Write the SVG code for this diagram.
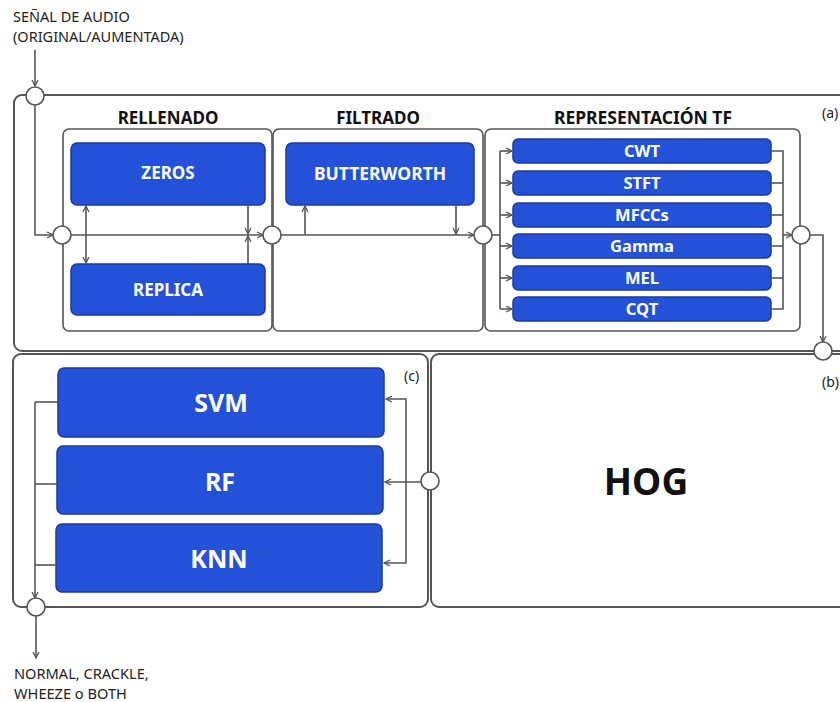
<svg xmlns="http://www.w3.org/2000/svg" width="840" height="702" viewBox="0 0 840 702">
<defs>
<marker id="ah" viewBox="0 0 8 8" refX="7" refY="4" markerWidth="8" markerHeight="8" markerUnits="userSpaceOnUse" orient="auto-start-reverse">
<path d="M1,1 L7,4 L1,7" fill="none" stroke="#555" stroke-width="1.3"/>
</marker>
<style>
.frame{fill:#fff;stroke:#555;stroke-width:2}
.inner{fill:#fff;stroke:#555;stroke-width:1.6}
.blue{fill:#2352d9;stroke:#1b3a9c;stroke-width:1.5}
.ln{fill:none;stroke:#555;stroke-width:1.6}
.ar{fill:none;stroke:#555;stroke-width:1.6;marker-end:url(#ah)}
.jn{fill:#fff;stroke:#555;stroke-width:1.6}
.t{font-family:"Noto Sans","Open Sans","DejaVu Sans",sans-serif;fill:#222}
.w{font-family:"Noto Sans","Open Sans","DejaVu Sans",sans-serif;fill:#fff;font-weight:bold;text-anchor:middle}
.h{font-family:"Noto Sans","Open Sans","DejaVu Sans",sans-serif;fill:#111;font-weight:bold;text-anchor:middle}
</style>
</defs>
<rect width="840" height="702" fill="#fff"/>

<!-- frames -->
<g id="frame-a">
<rect class="frame" x="14" y="95" width="850" height="256" rx="8"/>
<text class="t" x="822" y="118" font-size="14">(a)</text>
</g>
<g id="frame-c">
<rect class="frame" x="13" y="354" width="415" height="253" rx="8"/>
<text class="t" x="404" y="381" font-size="14">(c)</text>
</g>
<g id="hog">
<rect class="frame" x="431" y="354" width="430" height="253" rx="8"/>
<text class="h" x="646" y="495" font-size="37">HOG</text>
</g>
<text class="t" x="822" y="387" font-size="14">(b)</text>

<!-- group boxes -->
<g id="rellenado">
<rect class="inner" x="63" y="129" width="209" height="202" rx="6"/>
<text class="h" x="168" y="124" font-size="17">RELLENADO</text>
</g>
<g id="filtrado">
<rect class="inner" x="273" y="129" width="210" height="202" rx="6"/>
<text class="h" x="378" y="124" font-size="17">FILTRADO</text>
</g>
<g id="repr-tf">
<rect class="inner" x="485" y="129" width="315" height="202" rx="6"/>
<text class="h" x="643" y="124" font-size="17.5">REPRESENTACIÓN TF</text>
</g>

<!-- nodes -->
<g id="zeros"><rect class="blue" x="71" y="143" width="194" height="62" rx="6"/><text class="w" x="168" y="179" font-size="17">ZEROS</text></g>
<g id="replica"><rect class="blue" x="71" y="264" width="194" height="51" rx="6"/><text class="w" x="168" y="296" font-size="17">REPLICA</text></g>
<g id="butterworth"><rect class="blue" x="286" y="143" width="188" height="62" rx="6"/><text class="w" x="380" y="180" font-size="17.5">BUTTERWORTH</text></g>
<g id="cwt"><rect class="blue" x="513" y="139" width="258" height="24" rx="5"/><text class="w" x="642" y="157" font-size="16.5">CWT</text></g>
<g id="stft"><rect class="blue" x="513" y="171" width="258" height="24" rx="5"/><text class="w" x="642" y="189" font-size="16.5">STFT</text></g>
<g id="mfccs"><rect class="blue" x="513" y="203" width="258" height="24" rx="5"/><text class="w" x="642" y="221" font-size="16.5">MFCCs</text></g>
<g id="gamma"><rect class="blue" x="513" y="234" width="258" height="24" rx="5"/><text class="w" x="642" y="252" font-size="16.5">Gamma</text></g>
<g id="mel"><rect class="blue" x="513" y="266" width="258" height="24" rx="5"/><text class="w" x="642" y="284" font-size="16.5">MEL</text></g>
<g id="cqt"><rect class="blue" x="513" y="297" width="258" height="24" rx="5"/><text class="w" x="642" y="315" font-size="16.5">CQT</text></g>
<g id="svm"><rect class="blue" x="58" y="368" width="326" height="69" rx="6"/><text class="w" x="221" y="412" font-size="25">SVM</text></g>
<g id="rf"><rect class="blue" x="57" y="446" width="326" height="68" rx="6"/><text class="w" x="220" y="491" font-size="25">RF</text></g>
<g id="knn"><rect class="blue" x="56" y="524" width="326" height="68" rx="6"/><text class="w" x="219" y="568" font-size="25">KNN</text></g>

<!-- connectors -->
<g id="connectors">
<line class="ar" x1="35" y1="50" x2="35" y2="86"/>
<polyline class="ar" points="35,105 35,235 53,235"/>
<line class="ar" x1="71" y1="235" x2="263" y2="235"/>
<line class="ar" x1="86" y1="206" x2="86" y2="263" style="marker-start:url(#ah)"/>
<line class="ar" x1="248" y1="205" x2="248" y2="234"/>
<line class="ar" x1="248" y1="264" x2="248" y2="236"/>
<line class="ar" x1="281" y1="235" x2="474" y2="235"/>
<line class="ar" x1="305" y1="235" x2="305" y2="206"/>
<line class="ar" x1="456" y1="205" x2="456" y2="234"/>
<line class="ln" x1="492" y1="235" x2="500" y2="235"/>
<line class="ln" x1="500" y1="151" x2="500" y2="309"/>
<line class="ar" x1="500" y1="151" x2="512" y2="151"/>
<line class="ar" x1="500" y1="183" x2="512" y2="183"/>
<line class="ar" x1="500" y1="215" x2="512" y2="215"/>
<line class="ar" x1="500" y1="246" x2="512" y2="246"/>
<line class="ar" x1="500" y1="278" x2="512" y2="278"/>
<line class="ar" x1="500" y1="309" x2="512" y2="309"/>
<polyline class="ln" points="771,151 783,151 783,309 771,309"/>
<line class="ln" x1="771" y1="183" x2="783" y2="183"/>
<line class="ln" x1="771" y1="215" x2="783" y2="215"/>
<line class="ln" x1="771" y1="246" x2="783" y2="246"/>
<line class="ln" x1="771" y1="278" x2="783" y2="278"/>
<line class="ar" x1="783" y1="235" x2="792" y2="235"/>
<polyline class="ar" points="810,235 823,235 823,342"/>
<line class="ar" x1="421" y1="482" x2="385" y2="482"/>
<polyline class="ar" points="406,482 406,399 386,399"/>
<polyline class="ar" points="406,482 406,563 384,563"/>
<line class="ln" x1="58" y1="402" x2="35" y2="402"/>
<line class="ln" x1="57" y1="484" x2="35" y2="484"/>
<line class="ln" x1="56" y1="565" x2="35" y2="565"/>
<line class="ar" x1="35" y1="402" x2="35" y2="598"/>
<line class="ar" x1="36" y1="616" x2="36" y2="658"/>
</g>

<!-- junctions -->
<g id="junctions">
<circle class="jn" cx="35" cy="96" r="9"/>
<circle class="jn" cx="62" cy="235" r="9"/>
<circle class="jn" cx="272" cy="235" r="9"/>
<circle class="jn" cx="483" cy="235" r="9"/>
<circle class="jn" cx="801" cy="235" r="9"/>
<circle class="jn" cx="823" cy="351" r="9"/>
<circle class="jn" cx="430" cy="481" r="9"/>
<circle class="jn" cx="36" cy="607" r="9"/>
</g>

<g id="io-labels">
<text class="t" x="13" y="22" font-size="14.5">SEÑAL DE AUDIO</text>
<text class="t" x="13" y="42" font-size="14.5">(ORIGINAL/AUMENTADA)</text>
<text class="t" x="14" y="679" font-size="14.6">NORMAL, CRACKLE,</text>
<text class="t" x="14" y="699" font-size="14.6">WHEEZE o BOTH</text>
</g>
</svg>
